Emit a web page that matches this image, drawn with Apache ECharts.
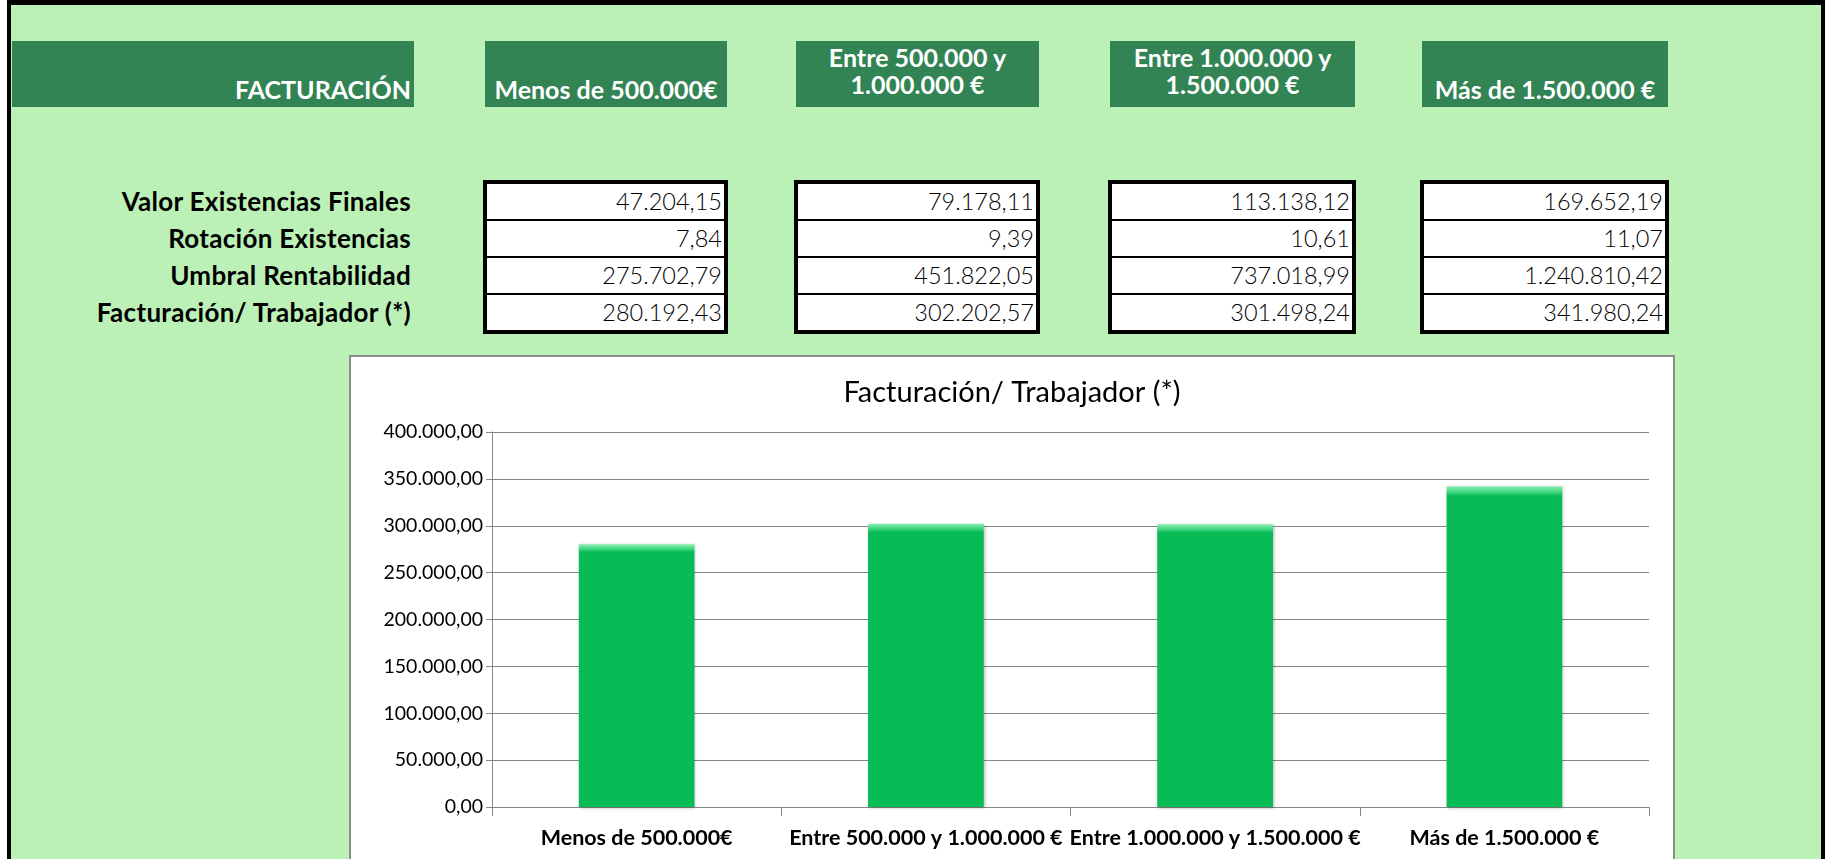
<!DOCTYPE html>
<html>
<head>
<meta charset="utf-8">
<script src="https://cdn.jsdelivr.net/npm/echarts@6/dist/echarts.min.js"></script>
<style>
  html, body { margin: 0; padding: 0; background: #fff; overflow: hidden; }
  body { width: 1825px; height: 859px; position: relative; font-family: Lato, 'Open Sans', sans-serif; }
  .frame {
    position: absolute; left: 7px; top: 0; width: 1818px; height: 880px;
    box-sizing: border-box; border: 5px solid #000; border-left-width: 4px; border-right-width: 4px;
    background: #bbf0b7;
  }
  .head {
    position: absolute; top: 41px; height: 66px; background: #338454; color: #fff;
    font-weight: 700; font-size: 25px; line-height: 27px; display: flex; flex-direction: column;
    justify-content: flex-end; align-items: center; text-align: center; box-sizing: border-box; padding-bottom: 4px;
    white-space: pre-line;
  }
  .head.wrap { justify-content: center; padding-bottom: 7px; }
  .head.first { align-items: flex-end; padding-right: 3px; }
  .rowlabel {
    position: absolute; right: calc(1825px - 411px); font-weight: 700; font-size: 26px; color: #000;
    line-height: 37px; white-space: nowrap; letter-spacing: 0.3px;
  }
  .tbl {
    position: absolute; top: 180px; box-sizing: border-box; border: 4px solid #000; background: #000;
  }
  .cell {
    background: #fff; height: 35px; line-height: 35px; text-align: right; font-size: 23.5px;
    padding-right: 2px; color: #000; font-weight: 300;
  }
  .cell + .cell { margin-top: 2px; }
  #chart {
    position: absolute; left: 349px; top: 355px; width: 1326px; height: 510px;
    box-sizing: border-box; border: 2px solid #8c8c8c; background: #fff;
  }
</style>
</head>
<body>
<div class="frame"></div>
<div id="sheet"></div>
<div id="chart"></div>
<script>
// datos
var categories = ['Menos de 500.000€', 'Entre 500.000 y 1.000.000 €', 'Entre 1.000.000 y 1.500.000 €', 'Más de 1.500.000 €']
var headerLabels = ['Menos de 500.000€', 'Entre 500.000 y\n1.000.000 €', 'Entre 1.000.000 y\n1.500.000 €', 'Más de 1.500.000 €']
var rowLabels = ['Valor Existencias Finales', 'Rotación Existencias', 'Umbral Rentabilidad', 'Facturación/ Trabajador (*)']
var valorExistencias = [47204.15, 79178.11, 113138.12, 169652.19]
var rotacionExistencias = [7.84, 9.39, 10.61, 11.07]
var umbralRentabilidad = [275702.79, 451822.05, 737018.99, 1240810.42]
var facturacionTrabajador = [280192.43, 302202.57, 301498.24, 341980.24]
var yTicks = [0, 50000, 100000, 150000, 200000, 250000, 300000, 350000, 400000]

function fmt(v) {
  var parts = v.toFixed(2).split('.')
  return parts[0].replace(/\B(?=(\d{3})+(?!\d))/g, '.') + ',' + parts[1]
}

// cabecera y tabla
var sheet = document.getElementById('sheet')
var cols = [[485, 242], [796, 243], [1110, 245], [1422, 246]]
var first = document.createElement('div')
first.className = 'head first'
first.style.left = '12px'
first.style.width = '402px'
first.textContent = 'FACTURACIÓN'
sheet.appendChild(first)
headerLabels.forEach(function(t, i) {
  var d = document.createElement('div')
  d.className = 'head' + (t.indexOf('\n') >= 0 ? ' wrap' : '')
  d.style.left = cols[i][0] + 'px'
  d.style.width = cols[i][1] + 'px'
  d.textContent = t
  sheet.appendChild(d)
})
rowLabels.forEach(function(t, r) {
  var d = document.createElement('div')
  d.className = 'rowlabel'
  d.style.top = (184 + r * 37 - 1) + 'px'
  d.textContent = t
  sheet.appendChild(d)
})
var rows = [valorExistencias, rotacionExistencias, umbralRentabilidad, facturacionTrabajador]
cols.forEach(function(c, i) {
  var t = document.createElement('div')
  t.className = 'tbl'
  t.style.left = (c[0] - 2) + 'px'
  t.style.width = (c[1] + 3) + 'px'
  rows.forEach(function(arr) {
    var cell = document.createElement('div')
    cell.className = 'cell'
    cell.textContent = fmt(arr[i])
    t.appendChild(cell)
  })
  sheet.appendChild(t)
})

// grafico
var myChart = echarts.init(document.getElementById('chart'))
myChart.setOption({
  animation: false,
  backgroundColor: '#fff',
  textStyle: { fontFamily: 'Lato' },
  title: {
    text: 'Facturación/ Trabajador (*)',
    left: 'center',
    top: 16,
    textStyle: { fontSize: 29, fontWeight: 'normal', color: '#000', fontFamily: 'Lato' }
  },
  grid: { left: 141, right: 24, top: 75, bottom: 56 },
  xAxis: {
    type: 'category',
    data: categories,
    axisLine: { lineStyle: { color: '#868686' } },
    axisTick: { show: true, length: 9, lineStyle: { color: '#868686' } },
    axisLabel: { color: '#000', fontWeight: 'bold', fontSize: 21.5, margin: 20, interval: 0 }
  },
  yAxis: {
    type: 'value',
    min: yTicks[0],
    max: yTicks[yTicks.length - 1],
    interval: yTicks[1] - yTicks[0],
    axisLine: { show: true, lineStyle: { color: '#868686' } },
    axisTick: { show: true, length: 6, lineStyle: { color: '#868686' } },
    splitLine: { lineStyle: { color: '#868686' } },
    axisLabel: { color: '#000', fontSize: 19.5, margin: 9, formatter: fmt }
  },
  series: [{
    type: 'bar',
    data: facturacionTrabajador,
    barWidth: '40%',
    itemStyle: {
      color: new echarts.graphic.LinearGradient(0, 0, 0, 1, [
        { offset: 0, color: '#8af0b4' },
        { offset: 0.018, color: '#3ed57e' },
        { offset: 0.03, color: '#07bb55' },
        { offset: 1, color: '#07bb55' }
      ]),
      shadowColor: 'rgba(0, 0, 0, 0.3)',
      shadowBlur: 3,
      shadowOffsetX: 1,
      shadowOffsetY: 1
    }
  }]
})
window.addEventListener('resize', function() {
  myChart.resize()
})
</script>
</body>
</html>
